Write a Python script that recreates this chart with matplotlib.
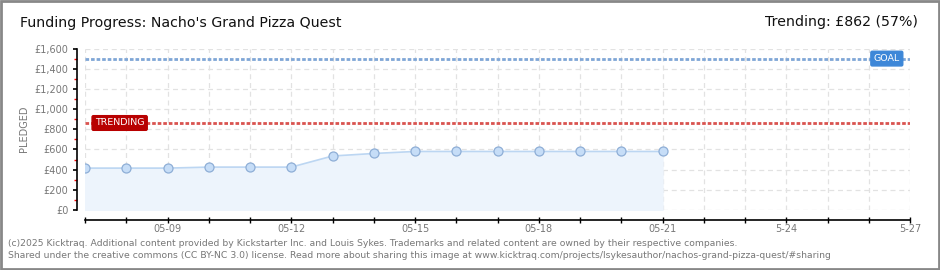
import pandas as pd
import matplotlib.pyplot as plt
import matplotlib.dates as mdates
from matplotlib.ticker import MultipleLocator, FuncFormatter
from matplotlib.patches import Rectangle

# ==========================
# DATA
# ==========================
dates = pd.date_range("2025-05-07", "2025-05-21", freq="D")
pledged = [415, 415, 415, 425, 425, 425, 535, 560, 580, 580, 580, 580, 580, 580, 580]
goal = 1500
trending = 862
tick_dates = pd.to_datetime(["2025-05-09", "2025-05-12", "2025-05-15", "2025-05-18",
                             "2025-05-21", "2025-05-24", "2025-05-27"])
tick_labels = ["05-09", "05-12", "05-15", "05-18", "05-21", "5-24", "5-27"]

W, H = 940, 270
fig = plt.figure(figsize=(W / 100, H / 100), dpi=100)
fig.patch.set_facecolor("white")

# plot area in pixels
left, right, top, bottom = 85, 910, 48.5, 210
ax = fig.add_axes([left / W, 1 - bottom / H, (right - left) / W, (bottom - top) / H])

grey = "#777777"
title_font = ["Liberation Sans Narrow", "DejaVu Sans"]

# line + fill
ax.fill_between(dates, pledged, 0, color="#edf4fc", zorder=1)
ax.plot(dates, pledged, color="#bcd6f2", lw=1.2, zorder=3)
ax.plot(dates, pledged, "o", ms=6.5, mfc="#c6ddf7", mec="#8eaed6", mew=0.9, zorder=4)

# goal / trending lines
ax.axhline(goal, color="#7fa6d6", lw=2, ls=(0, (1.3, 0.7)), zorder=2)
ax.axhline(trending, color="#d9534f", lw=2, ls=(0, (1.3, 0.7)), zorder=2)

ax.set_xlim(pd.Timestamp("2025-05-07"), pd.Timestamp("2025-05-27"))
ax.set_ylim(0, 1600)

# spines (offsets are in points: 0.72 pt per pixel)
for s in ["top", "right"]:
    ax.spines[s].set_visible(False)
ax.spines["left"].set_position(("outward", 5.8))
ax.spines["bottom"].set_position(("outward", 7.2))
ax.spines["left"].set_linewidth(1.2)
ax.spines["bottom"].set_linewidth(1.2)

# y ticks
ax.yaxis.set_major_locator(MultipleLocator(200))
ax.yaxis.set_minor_locator(MultipleLocator(100))
ax.yaxis.set_major_formatter(FuncFormatter(lambda v, p: f"£{int(v):,}"))
ax.tick_params(axis="y", which="major", length=3.2, width=1.2, color="black",
               labelsize=7, labelcolor=grey, pad=3)
ax.tick_params(axis="y", which="minor", length=2.2, width=1, color="red")

# x ticks
ax.xaxis.set_minor_locator(mdates.DayLocator())
ax.set_xticks(tick_dates)
ax.set_xticklabels(tick_labels)
ax.tick_params(axis="x", which="both", direction="inout", length=4, width=1,
               labelsize=7, labelcolor=grey, pad=1)

# grid
ax.grid(True, which="major", axis="y", color="#e2e2e2", ls=(0, (4, 3)), lw=0.9, zorder=0)
ax.grid(True, which="both", axis="x", color="#e2e2e2", ls=(0, (4, 3)), lw=0.9, zorder=0)
ax.set_axisbelow(True)

ax.set_ylabel("PLEDGED", fontsize=7, color=grey, labelpad=4)

# labels on the lines
ax.text(0.012, trending, "TRENDING", transform=ax.get_yaxis_transform(), fontsize=6.8,
        color="white", va="center", ha="left", zorder=6,
        bbox=dict(boxstyle="round,pad=0.3,rounding_size=0.15", fc="#b80000", ec="#b80000"))
ax.text(0.956, goal, "GOAL", transform=ax.get_yaxis_transform(), fontsize=6.8,
        color="white", va="center", ha="left", zorder=6,
        bbox=dict(boxstyle="round,pad=0.3,rounding_size=0.15", fc="#3d87d8", ec="#3d87d8"))

# header
fig.text(20 / W, 1 - 23 / H, "Funding Progress: Nacho's Grand Pizza Quest", fontsize=10.2,
         family=title_font, color="#111111", va="center", ha="left")
fig.text(918 / W, 1 - 22 / H, "Trending: £862 (57%)", fontsize=10.2,
         family=title_font, color="#111111", va="center", ha="right")

# footer
fig.text(8 / W, 1 - 243 / H,
         "(c)2025 Kicktraq. Additional content provided by Kickstarter Inc. and Louis Sykes. "
         "Trademarks and related content are owned by their respective companies.",
         fontsize=6.7, color=grey, va="center", ha="left")
fig.text(8 / W, 1 - 256 / H,
         "Shared under the creative commons (CC BY-NC 3.0) license. Read more about sharing this "
         "image at www.kicktraq.com/projects/lsykesauthor/nachos-grand-pizza-quest/#sharing",
         fontsize=6.7, color=grey, va="center", ha="left")

# frame around image
fig.patches.append(Rectangle((0.001, 0.002), 0.998, 0.996, transform=fig.transFigure,
                             fill=False, ec="#888888", lw=2))

fig.savefig("out.png", dpi=100)
